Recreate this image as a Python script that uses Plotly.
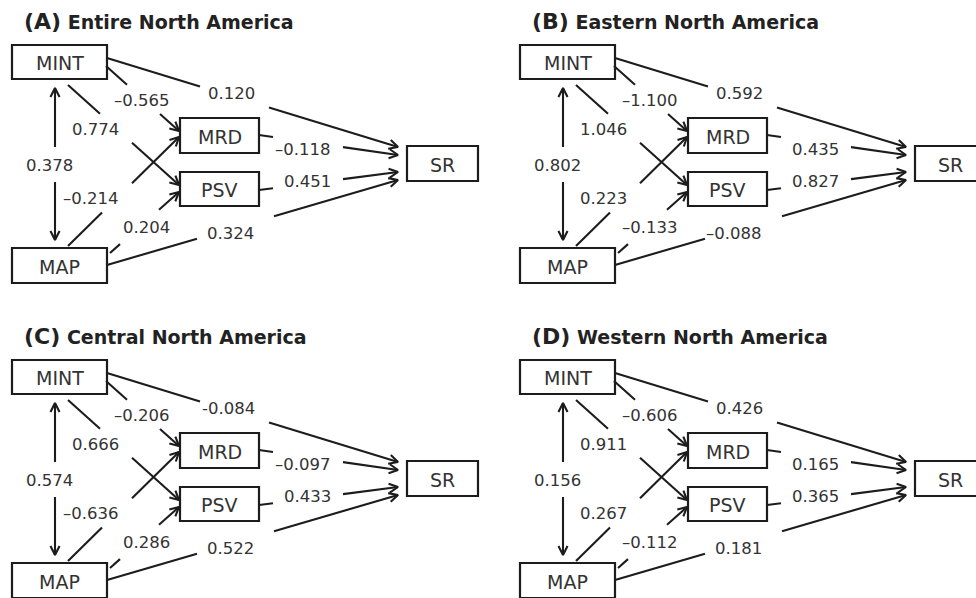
import math
import plotly.graph_objects as go

# ---------------- data ----------------
panel_letters = ["(A)", "(B)", "(C)", "(D)"]
panel_names = ["Entire North America", "Eastern North America",
               "Central North America", "Western North America"]
node_names = ["MINT", "MAP", "MRD", "PSV", "SR"]
path_names = ["MINT→SR", "MINT→MRD", "MINT→PSV", "MINT↔MAP", "MAP→MRD",
              "MAP→PSV", "MAP→SR", "MRD→SR", "PSV→SR"]
coef_A = ["0.120", "–0.565", "0.774", "0.378", "–0.214", "0.204", "0.324", "–0.118", "0.451"]
coef_B = ["0.592", "–1.100", "1.046", "0.802", "0.223", "–0.133", "–0.088", "0.435", "0.827"]
coef_C = ["-0.084", "–0.206", "0.666", "0.574", "–0.636", "0.286", "0.522", "–0.097", "0.433"]
coef_D = ["0.426", "–0.606", "0.911", "0.156", "0.267", "–0.112", "0.181", "0.165", "0.365"]
panel_coefs = [coef_A, coef_B, coef_C, coef_D]

# ---------------- layout (pixel geometry of one panel) ----------------
W, H = 976, 598
panel_offsets = [(0, 0), (508, 0), (0, 315), (508, 315)]
boxes = {  # x0, x1, y0, y1
    "MINT": (12, 107, 45, 79),
    "MAP": (12, 107, 248, 283),
    "MRD": (180, 259, 118, 153),
    "PSV": (180, 259, 172, 206),
    "SR": (407, 478, 146, 181),
}
# start point, tip, gap (x0,x1), label (x right edge, y)
edges = {
    "MINT→SR": ((107, 58), (398, 147), (200, 269), (257, 93)),
    "MINT→MRD": ((106, 66), (179, 131), (127, 160), (172, 100)),
    "MINT→PSV": ((68, 85), (179, 185), (100, 132), (121, 129)),
    "MAP→MRD": ((68, 246), (179, 137), (102, 132), (121, 198)),
    "MAP→PSV": ((110, 253), (179, 192), (120, 159), (172, 227)),
    "MAP→SR": ((107, 265), (398, 180), (197, 274), (256, 233)),
    "MRD→SR": ((259, 135), (398, 155), (273, 343), (333, 149)),
    "PSV→SR": ((259, 190), (398, 172), (273, 343), (333, 181)),
}
vert = {"x": 55, "y_top": 88, "y_bot": 240, "gap": (147, 182), "label": (75, 165)}

LINE = "#1c1c1c"
TXT = "#333333"
FONT = "DejaVu Sans"
ARROW_LEN, ARROW_ANG = 10, math.radians(27)

fig = go.Figure()
shapes, annotations = [], []
lx, ly = [], []   # line segments
ax_, ay_ = [], []  # arrowheads


def head(tip, frm):
    dx, dy = tip[0] - frm[0], tip[1] - frm[1]
    n = math.hypot(dx, dy)
    dx, dy = dx / n, dy / n
    pts = []
    for s in (1, -1):
        c, si = math.cos(s * ARROW_ANG), math.sin(s * ARROW_ANG)
        bx = -(dx * c - dy * si) * ARROW_LEN
        by = -(dx * si + dy * c) * ARROW_LEN
        pts.append((tip[0] + bx, tip[1] + by))
    return [pts[0], tip, pts[1]]


for p, (ox, oy) in enumerate(panel_offsets):
    coefs = panel_coefs[p]
    # title
    annotations.append(dict(
        x=ox + 22, y=oy + 21, xref="x", yref="y", xanchor="left", yanchor="middle",
        showarrow=False,
        text=f"<b><span style='font-size:22px'>{panel_letters[p]}</span> {panel_names[p]}</b>",
        font=dict(family=FONT, size=19, color="#222222")))
    # boxes
    for name in node_names:
        x0, x1, y0, y1 = boxes[name]
        shapes.append(dict(type="rect", xref="x", yref="y", x0=ox + x0, x1=ox + x1,
                           y0=oy + y0, y1=oy + y1, line=dict(color=LINE, width=2.2),
                           fillcolor="rgba(0,0,0,0)"))
        annotations.append(dict(x=ox + (x0 + x1) / 2, y=oy + (y0 + y1) / 2 + 1, xref="x", yref="y",
                                showarrow=False, text=name,
                                font=dict(family=FONT, size=19, color=TXT)))
    # edges
    for k, pname in enumerate(path_names):
        label = coefs[k]
        if pname == "MINT↔MAP":
            x = ox + vert["x"]
            g0, g1 = vert["gap"]
            lx += [x, x, None, x, x, None]
            ly += [oy + vert["y_top"], oy + g0, None, oy + g1, oy + vert["y_bot"], None]
            for tip, frm in (((x, oy + vert["y_top"]), (x, oy + g0)),
                             ((x, oy + vert["y_bot"]), (x, oy + g1))):
                for pt in head(tip, frm):
                    ax_.append(pt[0]); ay_.append(pt[1])
                ax_.append(None); ay_.append(None)
            lxr, lyr = vert["label"]
            annotations.append(dict(x=ox + lxr, y=oy + lyr, xref="x", yref="y",
                                    xanchor="right", showarrow=False, text=label,
                                    font=dict(family=FONT, size=16.5, color=TXT)))
            continue
        (sx, sy), (tx, ty), (g0, g1), (lxr, lyr) = edges[pname]
        slope = (ty - sy) / (tx - sx)
        yg0 = sy + (g0 - sx) * slope
        yg1 = sy + (g1 - sx) * slope
        lx += [ox + sx, ox + g0, None, ox + g1, ox + tx, None]
        ly += [oy + sy, oy + yg0, None, oy + yg1, oy + ty, None]
        for pt in head((ox + tx, oy + ty), (ox + sx, oy + sy)):
            ax_.append(pt[0]); ay_.append(pt[1])
        ax_.append(None); ay_.append(None)
        annotations.append(dict(x=ox + lxr, y=oy + lyr, xref="x", yref="y",
                                xanchor="right", showarrow=False, text=label,
                                font=dict(family=FONT, size=16.5, color=TXT)))

fig.add_trace(go.Scatter(x=lx, y=ly, mode="lines", line=dict(color=LINE, width=2.1),
                         hoverinfo="skip", showlegend=False))
fig.add_trace(go.Scatter(x=ax_, y=ay_, mode="lines", line=dict(color=LINE, width=2.1),
                         hoverinfo="skip", showlegend=False))

fig.update_layout(
    width=W, height=H, margin=dict(l=0, r=0, t=0, b=0),
    paper_bgcolor="white", plot_bgcolor="white",
    xaxis=dict(range=[0, W], visible=False, fixedrange=True),
    yaxis=dict(range=[H, 0], visible=False, fixedrange=True),
    shapes=shapes, annotations=annotations, showlegend=False,
)
fig.write_html("out.html", config={"displayModeBar": False},
               post_script="document.body.style.margin='0';document.body.style.overflow='hidden';")
